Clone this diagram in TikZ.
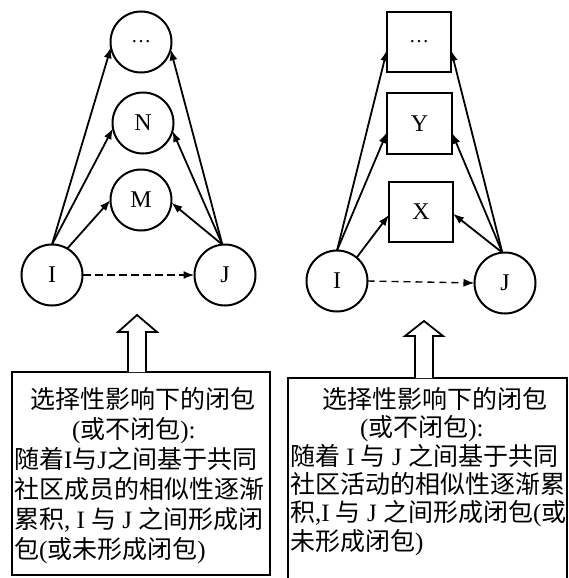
\documentclass[tikz,border=0pt]{standalone}
\usepackage{fontspec}
\setmainfont{Liberation Serif}
\newfontfamily\cjk{Noto Sans CJK SC}
\usetikzlibrary{arrows.meta}
\newcommand\myzh[1]{{\cjk #1}}
\begin{document}
\begin{tikzpicture}[x=1pt,y=-1pt,
  every node/.style={inner sep=0pt, outer sep=0pt},
  cnode/.style={circle, draw, line width=2pt, minimum size=61pt, font=\fontsize{24}{24}\selectfont},
  bnode/.style={rectangle, draw, line width=2pt, minimum width=64pt, minimum height=60pt, font=\fontsize{24}{24}\selectfont},
  arr/.style={line width=1.8pt, -{Latex[length=11pt,width=8pt]}},
  darrL/.style={arr, dash pattern=on 8pt off 4pt},
  darrR/.style={line width=1.4pt, -{Latex[length=11pt,width=8pt]}, dash pattern=on 7pt off 5pt},
  txt/.style={font=\fontsize{25}{25}\selectfont, text height=21pt, text depth=4pt},
  hollow/.style={line width=1.8pt, fill=white, line join=miter},
  panel/.style={draw, line width=2pt, inner sep=0pt}
]
\useasboundingbox (0,0) rectangle (569,578);

% ---- left graph ----
\node[cnode] (Ldots) at (141,42) {\fontsize{20}{20}\selectfont\ldots};
\node[cnode] (LN) at (143,123) {N};
\node[cnode] (LM) at (141,200) {M};
\node[cnode] (LI) at (52,275) {I};
\node[cnode] (LJ) at (225,275) {J};
\draw[arr] (LI.north) -- (Ldots.190);
\draw[arr] (LI.north) -- (LN.190);
\draw[arr] (LI.60) -- (LM.180);
\draw[arr] (LJ.95) -- (Ldots.346);
\draw[arr] (LJ.95) -- (LN.345);
\draw[arr] (LJ.95) -- (LM.355);
\draw[darrL] (LI.east) -- (LJ.west);

% ---- right graph ----
\node[bnode] (Rdots) at (419,42) {\fontsize{20}{20}\selectfont\ldots};
\node[bnode, minimum width=65pt, minimum height=61pt] (RY) at (419.5,123.5) {Y};
\node[bnode] (RX) at (421,212) {X};
\node[cnode] (RI) at (337,281) {I};
\node[cnode] (RJ) at (505,283) {J};
\draw[arr] (RI.north) -- (Rdots.194);
\draw[arr] (RI.north) -- (RY.195);
\draw[arr] (RI.50) -- (RX.185);
\draw[arr] (RJ.95) -- (Rdots.346);
\draw[arr] (RJ.95) -- (RY.344);
\draw[arr] (RJ.95) -- (RX.357);
\draw[darrR] (RI.east) -- (RJ.west);

% ---- text panels ----
\node[panel, minimum width=258pt, minimum height=203pt] (boxL) at (141,473.5) {};
\node[panel, minimum width=279pt, minimum height=222pt] (boxR) at (427.5,489) {};

% hollow arrows
\draw[hollow] (128,372) -- (128,332) -- (118,332) -- (137,315) -- (157,332) -- (146,332) -- (146,372);
\draw[hollow] (415,378) -- (415,336) -- (405,336) -- (424,321) -- (443,336) -- (433,336) -- (433,378);

% left text
\node[txt] (l1) at (143,400) {\myzh{选择性影响下的闭包}};
\node[txt, anchor=west] (l2) at (72,430) {(\myzh{或不闭包}):};
\node[txt, anchor=west] (l3) at (14,460) {\myzh{随着}I\myzh{与}J\myzh{之间基于共同}};
\node[txt, anchor=west] (l4) at (14,490) {\myzh{社区成员的相似性逐渐}};
\node[txt, anchor=west] (l5) at (14,520) {\myzh{累积}, I \myzh{与} J \myzh{之间形成闭}};
\node[txt, anchor=west] (l6) at (14,550) {\myzh{包}(\myzh{或未形成闭包})};

% right text
\node[txt] (r1) at (435,400) {\myzh{选择性影响下的闭包}};
\node[txt, anchor=west] (r2) at (360,428) {(\myzh{或不闭包}):};
\node[txt, anchor=west] (r3) at (290,457) {\myzh{随着} I \myzh{与} J \myzh{之间基于共同}};
\node[txt, anchor=west] (r4) at (290,485) {\myzh{社区活动的相似性逐渐累}};
\node[txt, anchor=west] (r5) at (290,513) {\myzh{积},I \myzh{与} J \myzh{之间形成闭包}(\myzh{或}};
\node[txt, anchor=west] (r6) at (290,542) {\myzh{未形成闭包})};
\end{tikzpicture}
\end{document}
